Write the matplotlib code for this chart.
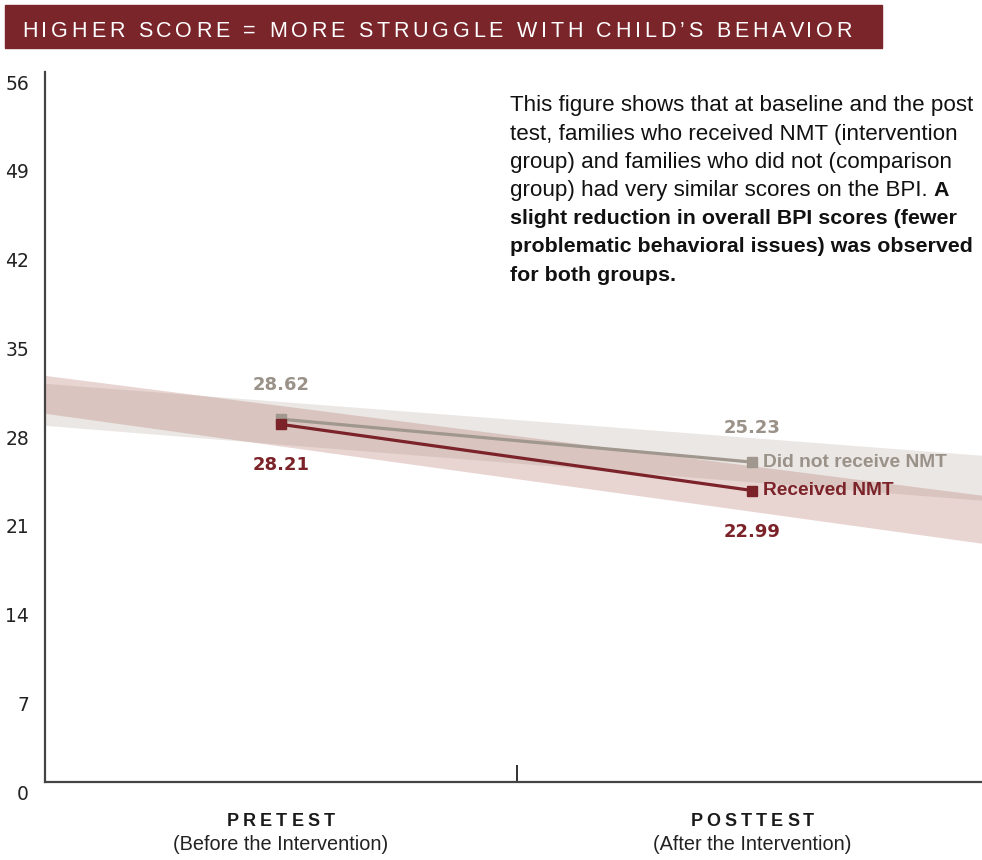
import matplotlib
matplotlib.use("Agg")
import matplotlib.pyplot as plt
from matplotlib.transforms import ScaledTranslation, IdentityTransform

# ---- data -------------------------------------------------------------
categories = ["PRETEST", "POSTTEST"]
subtitles = ["(Before the Intervention)", "(After the Intervention)"]
series_names = ["Did not receive NMT", "Received NMT"]
no_nmt_scores = [28.62, 25.23]
nmt_scores = [28.21, 22.99]

# shaded bands (lower / upper edge at the left and right ends of the plot)
band_x = [-0.5, 1.487]
no_nmt_band_low = [28.13, 22.22]
no_nmt_band_high = [31.44, 25.77]
nmt_band_low = [29.08, 18.83]
nmt_band_high = [32.07, 22.62]

y_ticks = [0, 7, 14, 21, 28, 35, 42, 49, 56]
title = "HIGHER SCORE = MORE STRUGGLE WITH CHILD\u2019S BEHAVIOR"

# ---- style ------------------------------------------------------------
RED = "#7b2329"
GRAY = "#a0978f"
GRAY_TXT = "#9a9189"
BANNER = "#7a252a"
SANS = ["Liberation Sans", "DejaVu Sans"]
WIDE = ["DejaVu Sans"]

W, H = 982, 860
fig = plt.figure(figsize=(W / 100, H / 100), dpi=100)
renderer = fig.canvas.get_renderer()

ax = fig.add_axes([45 / W, 78 / H, 937 / W, 710 / H])
ax.set_xlim(band_x[0], band_x[1])
ax.set_ylim(0, 56)

# bands
ax.fill_between(band_x, no_nmt_band_low, no_nmt_band_high, color="#ebe7e4", lw=0, zorder=1)
ax.fill_between(band_x, nmt_band_low, nmt_band_high, color="#aa675c", alpha=0.27, lw=0, zorder=2)

xs = list(range(len(categories)))
ax.plot(xs, no_nmt_scores, color=GRAY, lw=2.3, marker="s", ms=7.5, zorder=4)
ax.plot(xs, nmt_scores, color=RED, lw=2.3, marker="s", ms=7.5, zorder=5)

# value labels
for x, v in zip(xs, no_nmt_scores):
    ax.annotate(f"{v:.2f}", (x, v), xytext=(0, 34), textcoords="offset pixels",
                ha="center", va="center", fontsize=13, fontweight="bold",
                color=GRAY_TXT, family=WIDE)
for x, v in zip(xs, nmt_scores):
    ax.annotate(f"{v:.2f}", (x, v), xytext=(0, -41), textcoords="offset pixels",
                ha="center", va="center", fontsize=13, fontweight="bold",
                color=RED, family=WIDE)

# series labels at the right end of each line
ax.annotate(series_names[0], (xs[-1], no_nmt_scores[-1]), xytext=(11, 0),
            textcoords="offset pixels", ha="left", va="center", fontsize=13.8,
            fontweight="bold", color=GRAY_TXT, family=SANS, zorder=6)
ax.annotate(series_names[1], (xs[-1], nmt_scores[-1]), xytext=(11, 0),
            textcoords="offset pixels", ha="left", va="center", fontsize=13.8,
            fontweight="bold", color=RED, family=SANS, zorder=6)

# axes styling
for s in ("top", "right"):
    ax.spines[s].set_visible(False)
for s in ("left", "bottom"):
    ax.spines[s].set_color("#444444")
    ax.spines[s].set_linewidth(1.6)
ax.set_yticks(y_ticks)
ax.set_yticklabels([str(t) for t in y_ticks], fontsize=13.5, color="#222222", family=WIDE)
ax.tick_params(axis="y", length=0, pad=11.5)
shift = ScaledTranslation(0, -10 / 100, fig.dpi_scale_trans)
for lab in ax.get_yticklabels():
    lab.set_transform(lab.get_transform() + shift)
ax.set_xticks([0.5])
ax.set_xticklabels([""])
ax.tick_params(axis="x", direction="in", length=12.5, width=1.3, color="#222222")


# ---- text helpers (pixel coordinates, y measured from the top) ---------
def measure(s, **kw):
    t = fig.text(0, 0, s, **kw)
    w = t.get_window_extent(renderer).width
    t.remove()
    return w


def fit_size(lines, target, base=12.0, **kw):
    widest = max(measure(s, fontsize=base, **kw) for s in lines)
    return base * target / widest


def tracked_text(s, y_base, x0=None, center=None, width=None, tracking=0.0, **kw):
    n = len(s)
    bar = measure("|", **kw)
    adv = [0.0] + [measure(s[:i] + "|", **kw) - bar for i in range(1, n)]
    natural = measure(s, **kw)
    if width is not None:
        tracking = (width - natural) / (n - 1)
    total = natural + tracking * (n - 1)
    if center is not None:
        x0 = center - total / 2
    for i, ch in enumerate(s):
        if ch == " ":
            continue
        fig.text(x0 + adv[i] + i * tracking, H - y_base, ch, ha="left", va="baseline",
                 transform=IdentityTransform(), **kw)


# banner
fig.patches.append(plt.Rectangle((5 / W, 1 - 48 / H), 877 / W, 43 / H,
                                 transform=fig.transFigure, color=BANNER, zorder=0))
tracked_text(title, 37, x0=22, width=830, color="white", fontsize=15.5, family=SANS)

# category labels
for i, (cat, sub) in enumerate(zip(categories, subtitles)):
    cx = ax.transData.transform((i, 0))[0]
    tracked_text(cat, 826, center=cx, tracking=4.0, color="#1a1a1a", fontsize=13,
                 fontweight="bold", family=SANS)
    fig.text(cx, H - 845, sub, ha="center", va="center", transform=IdentityTransform(),
             fontsize=14.3, color="#222222", family=SANS)

# description paragraph
para_regular = [
    "This figure shows that at baseline and the post",
    "test, families who received NMT (intervention",
    "group) and families who did not (comparison",
    "group) had very similar scores on the BPI.",
]
para_bold = [
    "slight reduction in overall BPI scores (fewer",
    "problematic behavioral issues) was observed",
    "for both groups.",
]
px, py0, lead = 510, 106, 28.2
reg_size = fit_size(para_regular, 462, family=SANS)
bold_size = fit_size(para_bold, 458, family=SANS, fontweight="bold")
kw_reg = dict(fontsize=reg_size, color="#111111", family=SANS)
kw_bold = dict(fontsize=bold_size, color="#111111", family=SANS, fontweight="bold")
for i, line in enumerate(para_regular):
    fig.text(px, H - (py0 + i * lead), line, ha="left", va="center",
             transform=IdentityTransform(), **kw_reg)
space = measure("a a", **kw_reg) - measure("aa", **kw_reg)
x_a = px + measure(para_regular[-1], **kw_reg) + space
fig.text(x_a, H - (py0 + 3 * lead), "A", ha="left", va="center",
         transform=IdentityTransform(), **kw_bold)
for j, line in enumerate(para_bold):
    fig.text(px, H - (py0 + (4 + j) * lead), line, ha="left", va="center",
             transform=IdentityTransform(), **kw_bold)

fig.savefig("out.png", dpi=100)
